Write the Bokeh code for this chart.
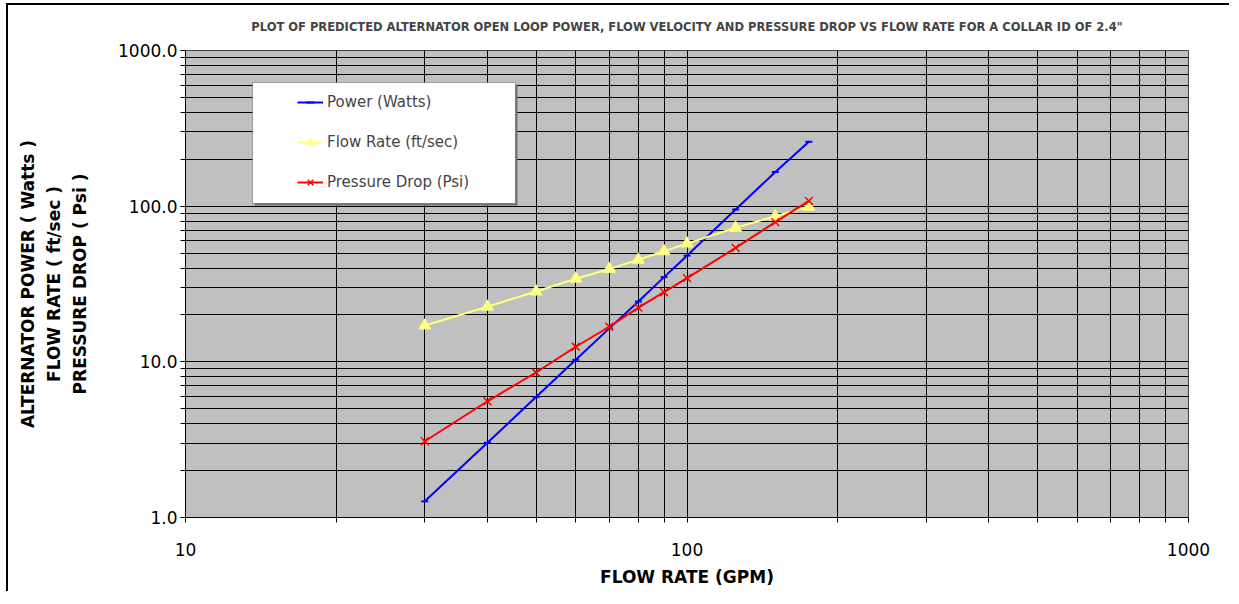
from bokeh.plotting import figure
from bokeh.models import (FixedTicker, NumeralTickFormatter, Legend, LegendItem,
                          BoxAnnotation, Range1d, ColumnDataSource)
from bokeh.embed import file_html
from bokeh.resources import INLINE

# ---- data ----
gpm = [30, 40, 50, 60, 70, 80, 90, 100, 125, 150, 175]
power_watts = [1.27, 3.02, 5.94, 10.3, 16.4, 24.4, 35.0, 48.1, 95.2, 166, 259]
flow_velocity = [17.1, 22.6, 28.3, 34.2, 39.5, 45.3, 51.3, 57.5, 72.6, 86.2, 99.1]
pressure_drop = [3.09, 5.58, 8.54, 12.5, 16.8, 22.3, 28.0, 34.5, 53.9, 79.0, 108.0]

series_names = ["Power (Watts)", "Flow Rate (ft/sec)", "Pressure Drop (Psi)"]

x_ticks = [10, 100, 1000]
x_tick_labels = ["10", "100", "1000"]
y_ticks = [1, 10, 100, 1000]
y_tick_labels = ["1.0", "10.0", "100.0", "1000.0"]

title_text = ('PLOT OF PREDICTED ALTERNATOR OPEN LOOP POWER, FLOW VELOCITY AND '
              'PRESSURE DROP VS FLOW RATE FOR A COLLAR ID OF 2.4"')
x_label = "FLOW RATE (GPM)"
y_label = "ALTERNATOR POWER ( Watts )\nFLOW RATE ( ft/sec )\nPRESSURE DROP ( Psi )"

FONT = "DejaVu Sans"

src = ColumnDataSource(dict(x=gpm, p=power_watts, v=flow_velocity, d=pressure_drop))

p = figure(width=1223, height=588,
           x_axis_type="log", y_axis_type="log",
           x_range=Range1d(10, 1000), y_range=Range1d(1, 1000),
           output_backend="svg", toolbar_location=None,
           min_border_left=177, min_border_right=43,
           min_border_top=45, min_border_bottom=76,
           background_fill_color="#C0C0C0", border_fill_color="white",
           title=title_text + "\n")

# outer chart border (left and top edges visible in the reference)
p.styles = {"margin-left": "6px", "margin-top": "3px",
            "border-left": "2px solid black", "border-top": "2px solid black"}

p.title.text_font = FONT
p.title.text_font_style = "bold"
p.title.text_font_size = "11.5px"
p.title.align = "center"
p.title.vertical_align = "bottom"
p.title.standoff = 6

# ticks
x_minor = [m * d for d in (10, 100) for m in range(2, 10)]
y_minor = [m * d for d in (1, 10, 100) for m in range(2, 10)]
p.xaxis.ticker = FixedTicker(ticks=x_ticks, minor_ticks=x_minor)
p.yaxis.ticker = FixedTicker(ticks=y_ticks, minor_ticks=y_minor)
p.xaxis.formatter = NumeralTickFormatter(format="0")
p.yaxis.formatter = NumeralTickFormatter(format="0.0")
p.xaxis.major_label_overrides = {float(t): s for t, s in zip(x_ticks, x_tick_labels)}
p.yaxis.major_label_overrides = {float(t): s for t, s in zip(y_ticks, y_tick_labels)}

for ax in (p.xaxis[0], p.yaxis[0]):
    ax.axis_line_color = "black"
    ax.major_tick_line_color = "black"
    ax.minor_tick_line_color = "black"
    ax.major_tick_in = 0
    ax.major_tick_out = 5
    ax.minor_tick_in = 0
    ax.minor_tick_out = 5
    ax.major_label_text_font = FONT
    ax.major_label_text_font_size = "17px"
    ax.major_label_text_color = "black"
    ax.axis_label_text_font = FONT
    ax.axis_label_text_font_style = "bold"
    ax.axis_label_text_font_size = "17px"
    ax.axis_label_text_color = "black"

p.xaxis.axis_label = x_label
p.yaxis.axis_label = y_label
p.xaxis.major_label_standoff = 20
p.xaxis.axis_label_standoff = 8
p.yaxis.major_label_standoff = 3
p.yaxis.axis_label_standoff = 25
p.yaxis.axis_label_text_line_height = 1.3

for g in (p.xgrid[0], p.ygrid[0]):
    g.grid_line_color = "black"
    g.grid_line_alpha = 1
    g.minor_grid_line_color = "black"
    g.minor_grid_line_alpha = 1

p.outline_line_color = "#404040"
p.outline_line_width = 1

# series
l1 = p.line("x", "p", source=src, line_color="#0000FF", line_width=2)
s1 = p.scatter("x", "p", source=src, marker="dash", size=7, line_color="#0000FF", line_width=2)
l2 = p.line("x", "v", source=src, line_color="#FFFF80", line_width=2)
s2 = p.scatter("x", "v", source=src, marker="triangle", size=12,
               fill_color="#FFFF80", line_color="#FFFF80")
l3 = p.line("x", "d", source=src, line_color="#FF0000", line_width=2)
s3 = p.scatter("x", "d", source=src, marker="x", size=11, line_color="#FF0000", line_width=1.5)

# legend box (drawn separately so the entries can sit inset from its left edge)
shadow = BoxAnnotation(left=69, right=332, top=433, bottom=312,
                       left_units="screen", right_units="screen",
                       top_units="screen", bottom_units="screen",
                       fill_color="#707070", fill_alpha=1, line_alpha=0)
p.add_layout(shadow)
box = BoxAnnotation(left=67, right=330, top=435, bottom=314,
                    left_units="screen", right_units="screen",
                    top_units="screen", bottom_units="screen",
                    fill_color="white", fill_alpha=1,
                    line_color="black", line_width=1)
p.add_layout(box)

legend = Legend(items=[LegendItem(label=series_names[0], renderers=[l1, s1]),
                       LegendItem(label=series_names[1], renderers=[l2, s2]),
                       LegendItem(label=series_names[2], renderers=[l3, s3])],
                location=(112, 325), padding=0, margin=0, spacing=20,
                label_height=20, glyph_height=20, glyph_width=26, label_standoff=4,
                background_fill_alpha=0, border_line_alpha=0,
                label_text_font=FONT, label_text_font_size="15px",
                label_text_baseline="middle")
p.add_layout(legend)

open("out.html", "w").write(file_html(p, INLINE))
